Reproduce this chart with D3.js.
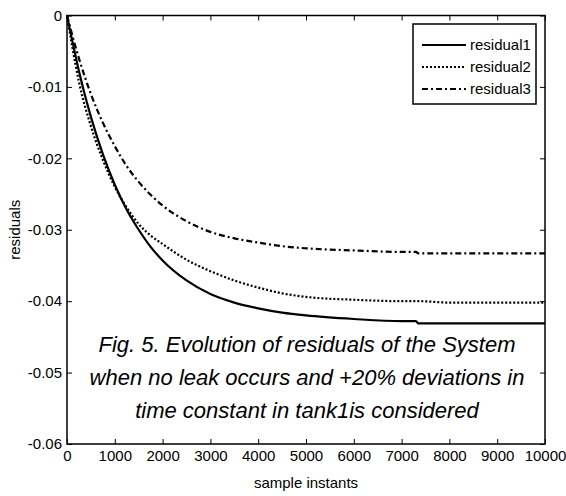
<!DOCTYPE html>
<html>
<head>
<meta charset="utf-8">
<script src="https://cdn.jsdelivr.net/npm/d3@7"></script>
<style>
  html, body { margin: 0; padding: 0; background: #fff; }
  svg { display: block; }
  text { font-family: "Liberation Sans Narrow", "Liberation Sans", Arial, sans-serif; fill: #000; }
  .caption { font-family: "Liberation Sans", Arial, sans-serif; }
</style>
</head>
<body>
<svg id="chart" width="566" height="496"></svg>
<script>
// Sample instants at which the residuals are tabulated
const sampleInstants = [0, 100, 250, 500, 750, 1000, 1250, 1500, 1750, 2000, 2500, 3000,
  3500, 4000, 4500, 5000, 6000, 7000, 7300, 7350, 8000, 9000, 10000];

// Residual values of the three outputs
const residual1 = [0, -0.0032, -0.0078, -0.0142, -0.0194, -0.0237, -0.0272, -0.0300, -0.0324,
  -0.0343, -0.0371, -0.0390, -0.0402, -0.0410, -0.0416, -0.0420, -0.0425, -0.0428, -0.0428,
  -0.0431, -0.0431, -0.0431, -0.0431];
const residual2 = [0, -0.0040, -0.0093, -0.0155, -0.0202, -0.0240, -0.0269, -0.0292, -0.0308,
  -0.0320, -0.0342, -0.0358, -0.0371, -0.0381, -0.0389, -0.0394, -0.0398, -0.0400, -0.0400,
  -0.0400, -0.0402, -0.0402, -0.0402];
const residual3 = [0, -0.0025, -0.0060, -0.0110, -0.0150, -0.0183, -0.0211, -0.0233, -0.0251,
  -0.0266, -0.0288, -0.0303, -0.0312, -0.0318, -0.0323, -0.0326, -0.0329, -0.0331, -0.0331,
  -0.0333, -0.0333, -0.0333, -0.0333];

const seriesNames = ["residual1", "residual2", "residual3"];
const xTicks = [0, 1000, 2000, 3000, 4000, 5000, 6000, 7000, 8000, 9000, 10000];
const yTicks = [0, -0.01, -0.02, -0.03, -0.04, -0.05, -0.06];
const captionLines = [
  "Fig. 5. Evolution of residuals of the System",
  "when no leak occurs and +20% deviations in",
  "time constant in tank1is considered"
];

const dashes = [null, "2,2", "6,3,2,3"];
const seriesValues = [residual1, residual2, residual3];

const margin = { left: 67, right: 21, top: 15.5, bottom: 52 };
const W = 566, H = 496;
const svg = d3.select("#chart");

const x = d3.scaleLinear().domain([0, 10000]).range([margin.left, W - margin.right]);
const y = d3.scaleLinear().domain([-0.06, 0]).range([H - margin.bottom, margin.top]);

const fmtY = d => d === 0 ? "0" : d3.format(".2f")(d).replace("\u2212", "-");

// Axes with inward ticks on all four sides
const tickLen = 5;
const gBottom = svg.append("g").attr("transform", `translate(0,${y(-0.06)})`)
  .call(d3.axisBottom(x).tickValues(xTicks).tickSize(-tickLen).tickPadding(6).tickFormat(d3.format("d")));
const gTop = svg.append("g").attr("transform", `translate(0,${y(0)})`)
  .call(d3.axisTop(x).tickValues(xTicks).tickSize(-tickLen).tickFormat(""));
const gLeft = svg.append("g").attr("transform", `translate(${x(0)},0)`)
  .call(d3.axisLeft(y).tickValues(yTicks).tickSize(-tickLen).tickPadding(5).tickFormat(fmtY));
const gRight = svg.append("g").attr("transform", `translate(${x(10000)},0)`)
  .call(d3.axisRight(y).tickValues(yTicks).tickSize(-tickLen).tickFormat(""));

[gBottom, gTop, gLeft, gRight].forEach(g => {
  g.select(".domain").remove();
  g.selectAll(".tick line").attr("stroke", "#000").attr("stroke-width", 1);
  g.selectAll(".tick text").style("font-size", "15px").attr("fill", "#000")
    .style("font-family", "'Liberation Sans Narrow', 'Liberation Sans', Arial, sans-serif");
});

// Plot frame
svg.append("rect")
  .attr("x", x(0)).attr("y", y(0))
  .attr("width", x(10000) - x(0)).attr("height", y(-0.06) - y(0))
  .attr("fill", "none").attr("stroke", "#000").attr("stroke-width", 1.5);

// Residual curves
const line = d3.line()
  .x((d, i) => x(sampleInstants[i]))
  .y(d => y(d))
  .curve(d3.curveMonotoneX);

seriesValues.forEach((vals, k) => {
  svg.append("path")
    .datum(vals)
    .attr("d", line)
    .attr("fill", "none")
    .attr("stroke", "#000")
    .attr("stroke-width", 2.2)
    .attr("stroke-dasharray", dashes[k]);
});

// Legend
const lg = svg.append("g");
lg.append("rect").attr("x", 413).attr("y", 24).attr("width", 123).attr("height", 80)
  .attr("fill", "#fff").attr("stroke", "#000").attr("stroke-width", 1.5);
seriesNames.forEach((name, k) => {
  const yy = 45 + k * 22;
  lg.append("line").attr("x1", 422).attr("x2", 466).attr("y1", yy).attr("y2", yy)
    .attr("stroke", "#000").attr("stroke-width", 2).attr("stroke-dasharray", dashes[k]);
  lg.append("text").attr("x", 470).attr("y", yy).attr("dy", "0.35em")
    .style("font-size", "15px").text(name);
});

// Caption inside the plot area
captionLines.forEach((t, i) => {
  svg.append("text")
    .attr("class", "caption")
    .attr("x", 307).attr("y", 352 + i * 33)
    .attr("text-anchor", "middle")
    .style("font-size", "22px").style("font-style", "italic")
    .text(t);
});

// Axis titles
svg.append("text").attr("x", x(5000)).attr("y", 488)
  .attr("text-anchor", "middle").style("font-size", "15px").text("sample instants");
svg.append("text")
  .attr("transform", `translate(20,${(y(0) + y(-0.06)) / 2}) rotate(-90)`)
  .attr("text-anchor", "middle").style("font-size", "15px").text("residuals");
</script>
</body>
</html>
